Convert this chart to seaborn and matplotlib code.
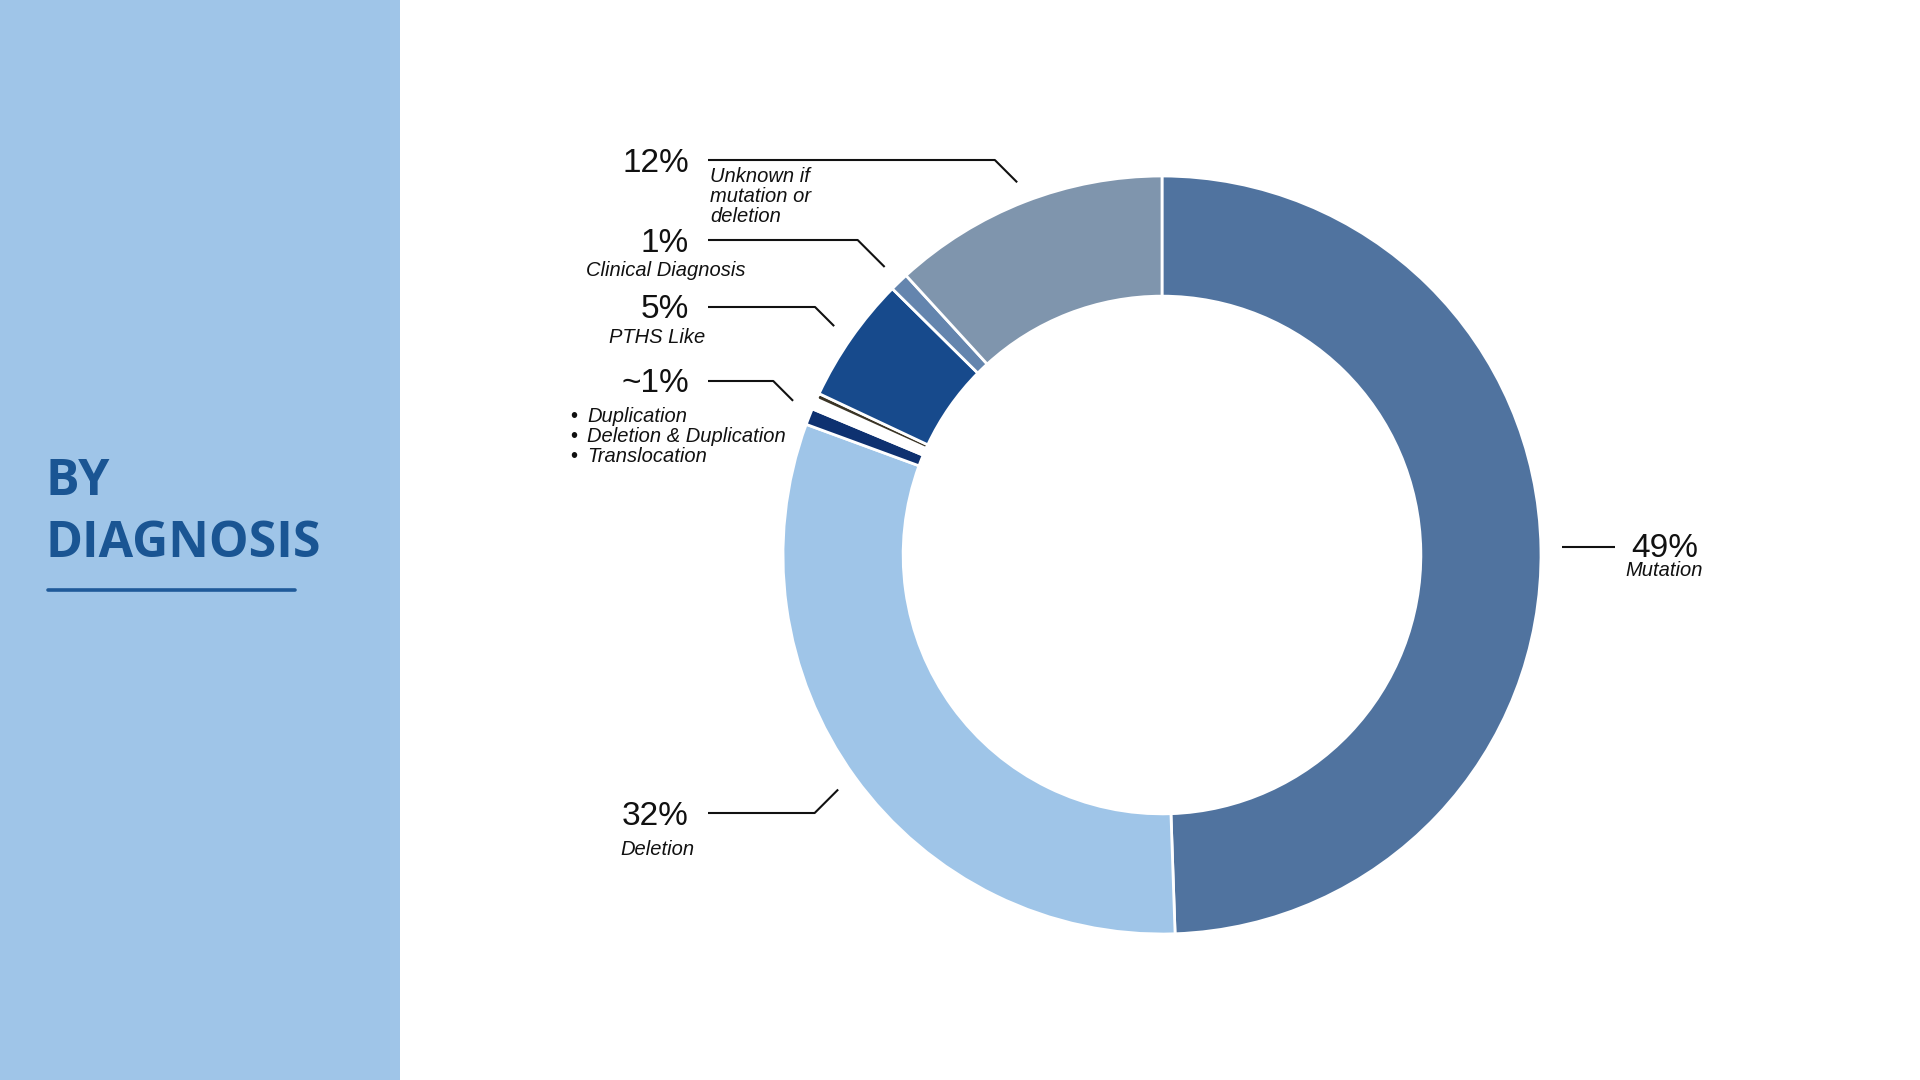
import numpy as np
import matplotlib
matplotlib.use("Agg")
import matplotlib.pyplot as plt
import seaborn as sns
from matplotlib.patches import Rectangle

# ---------------- data ----------------
categories = ["Mutation", "Deletion", "Translocation", "Deletion & Duplication",
              "Duplication", "PTHS Like", "Clinical Diagnosis",
              "Unknown if mutation or deletion"]
values = [49.45, 31.15, 0.7, 0.45, 0.25, 5.4, 0.8, 11.8]
slice_colors = ["#50739f", "#9fc5e8", "#0e3170", "#ffffff", "#3b3526",
                "#174a8c", "#6485ae", "#7f95ad"]

pct_labels = ["49%", "32%", "~1%", "5%", "1%", "12%"]
group_members = [[0], [1], [2, 3, 4], [5], [6], [7]]
desc_labels = ["Mutation", "Deletion", None, "PTHS Like", "Clinical Diagnosis",
               "Unknown if\nmutation or\ndeletion"]
bullet_items = ["Duplication", "Deletion & Duplication", "Translocation"]
title_lines = ["BY", "DIAGNOSIS"]

# ---------------- style ----------------
sns.set_theme(style="white")
plt.rcParams["font.family"] = ["Liberation Sans", "DejaVu Sans"]

W, H = 1920, 1080
CX, CY, R = 1162, 555, 379  # pie centre / radius in pixels

fig = plt.figure(figsize=(W / 100, H / 100), dpi=100)
fig.patch.set_facecolor("white")


def fx(x):
    return x / W


def fy(y):
    return 1 - y / H


def dx(x):
    return (x - CX) / R


def dy(y):
    return (CY - y) / R


# left panel
fig.patches.append(Rectangle((0, 0), 400 / W, 1, transform=fig.transFigure,
                             facecolor="#9fc5e8", edgecolor="none", zorder=1))
title_color = "#1a5593"
for line, base in zip(title_lines, [495, 557]):
    fig.text(fx(45), fy(base), line, ha="left", va="baseline",
             fontsize=36, fontweight="bold", color=title_color,
             family=["Open Sans", "DejaVu Sans"], zorder=3)
fig.lines.append(plt.Line2D([fx(48), fx(295)], [fy(590), fy(590)],
                            transform=fig.transFigure, color="#1f5a99",
                            linewidth=2.6, zorder=3))

# donut
ax = fig.add_axes([0, 0, 1, 1])
pal = sns.color_palette(slice_colors)
wedges, _ = ax.pie(values, colors=pal, startangle=90, counterclock=False,
                   radius=1.0,
                   wedgeprops=dict(width=0.317, edgecolor="white", linewidth=2.0))
ax.set_aspect("auto")
ax.set_xlim(dx(0), dx(W))
ax.set_ylim(dy(H), dy(0))
ax.axis("off")

# leader lines (left side), computed from wedge angles
label_line_y = {1: 813, 2: 381, 3: 307, 4: 240, 5: 160}
line_start_x = 708
for gi, ly in label_line_y.items():
    ws = [wedges[i] for i in group_members[gi]]
    t_lo = min(w.theta1 for w in ws)
    t_hi = max(w.theta2 for w in ws)
    mid = np.deg2rad((t_lo + t_hi) / 2)
    ex, ey = 1.055 * np.cos(mid), 1.055 * np.sin(mid)
    ly_d = dy(ly)
    elbow_x = ex - abs(ey - ly_d)
    ax.plot([dx(line_start_x), elbow_x, ex], [ly_d, ly_d, ey],
            color="#111111", linewidth=1.5, solid_capstyle="butt")
# mutation leader (right side)
ax.plot([dx(1562), dx(1615)], [dy(547), dy(547)], color="#111111",
        linewidth=1.5, solid_capstyle="butt")

# text
pct_size = 24
desc_size = 14.5
txt_color = "#111111"

# 49% Mutation (right)
fig.text(fx(1665), fy(557), pct_labels[0], ha="center", va="baseline",
         fontsize=pct_size, color=txt_color)
fig.text(fx(1664), fy(576), desc_labels[0], ha="center", va="baseline",
         fontsize=desc_size, style="italic", color=txt_color)

# left-side percentages
pct_pos = {1: 825, 2: 392, 3: 318, 4: 252, 5: 172}
for gi, base in pct_pos.items():
    fig.text(fx(689), fy(base), pct_labels[gi], ha="right", va="baseline",
             fontsize=pct_size, color=txt_color)

# centred descriptions under percentages
for gi, (cxp, base) in {1: (657, 855), 3: (657, 343), 4: (666, 276)}.items():
    fig.text(fx(cxp), fy(base), desc_labels[gi], ha="center", va="baseline",
             fontsize=desc_size, style="italic", color=txt_color)

# "Unknown if mutation or deletion" left-aligned
for k, line in enumerate(desc_labels[5].split("\n")):
    fig.text(fx(710), fy(182 + 20 * k), line, ha="left", va="baseline",
             fontsize=desc_size, style="italic", color=txt_color)

# bullets for ~1%
for k, item in enumerate(bullet_items):
    base = 422 + 20 * k
    fig.text(fx(570), fy(base), "\u2022", ha="left", va="baseline",
             fontsize=desc_size, color=txt_color)
    fig.text(fx(587), fy(base), item, ha="left", va="baseline",
             fontsize=desc_size, style="italic", color=txt_color)

fig.savefig("out.png", dpi=100, facecolor="white")
